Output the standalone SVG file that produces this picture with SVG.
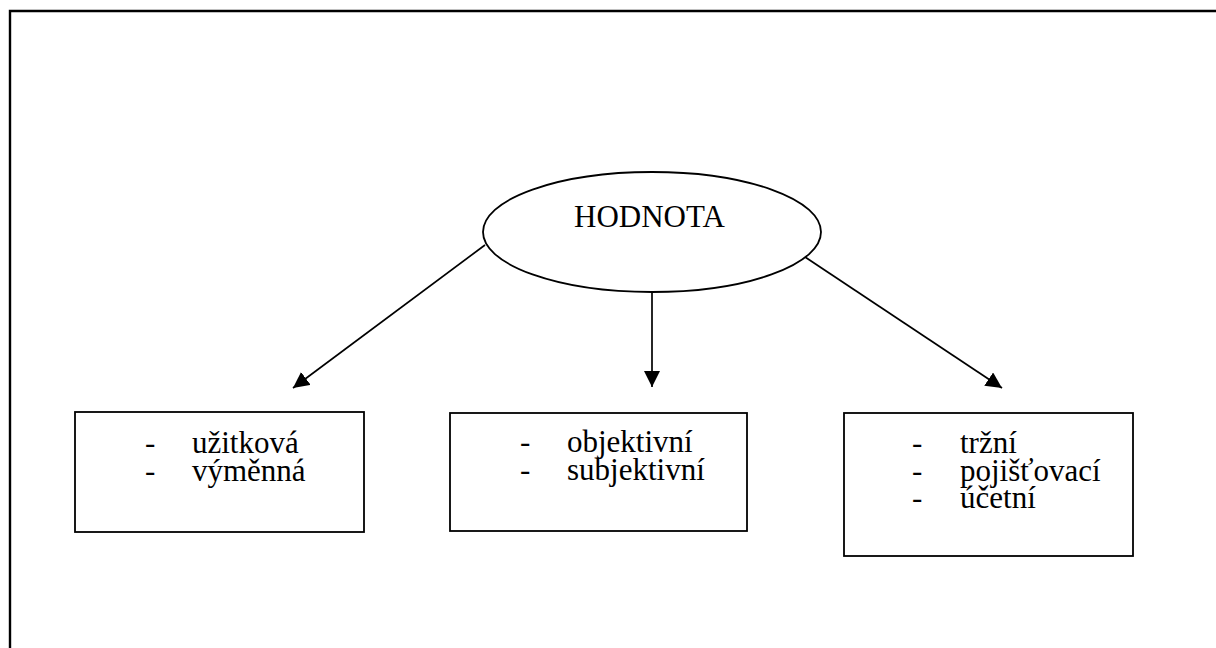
<svg xmlns="http://www.w3.org/2000/svg" width="1216" height="648" viewBox="0 0 1216 648">
  <style>
    .shape { fill: #fff; stroke: #000; stroke-width: 1.8; }
    .conn { stroke: #000; stroke-width: 1.7; fill: none; marker-end: url(#arrow); }
  </style>
  <defs>
    <marker id="arrow" markerUnits="userSpaceOnUse" markerWidth="20" markerHeight="20" refX="16" refY="8" orient="auto">
      <path d="M0,0 L16,8 L0,16 Z" fill="#000"/>
    </marker>
  </defs>
  <rect width="1216" height="648" fill="#fff"/>

  <!-- page frame (top and left edges) -->
  <polyline points="10,648 10,11 1216,11" fill="none" stroke="#000" stroke-width="2.4"/>

  <!-- connectors -->
  <g id="connectors">
    <line class="conn" x1="485" y1="245" x2="293" y2="388"/>
    <line class="conn" x1="652" y1="292" x2="652" y2="387"/>
    <line class="conn" x1="805" y1="257" x2="1002" y2="388"/>
  </g>

  <g font-family="'Liberation Serif', 'Times New Roman', Times, serif" font-size="31" fill="#000">
    <g id="node-hodnota">
      <ellipse class="shape" cx="652" cy="232" rx="169" ry="60"/>
      <text x="574" y="227">HODNOTA</text>
    </g>

    <g id="node-uzitkova">
      <rect class="shape" x="75" y="412" width="289" height="120"/>
      <text x="145" y="453">-</text>
      <text x="192" y="453">užitková</text>
      <text x="145" y="481">-</text>
      <text x="192" y="481">výměnná</text>
    </g>

    <g id="node-objektivni">
      <rect class="shape" x="450" y="413" width="297" height="118"/>
      <text x="520" y="452">-</text>
      <text x="567" y="452">objektivní</text>
      <text x="520" y="480">-</text>
      <text x="567" y="480">subjektivní</text>
    </g>

    <g id="node-trzni">
      <rect class="shape" x="844" y="413" width="289" height="143"/>
      <text x="912" y="453">-</text>
      <text x="960" y="453">tržní</text>
      <text x="912" y="481">-</text>
      <text x="960" y="481">pojišťovací</text>
      <text x="912" y="508">-</text>
      <text x="960" y="508">účetní</text>
    </g>
  </g>
</svg>
